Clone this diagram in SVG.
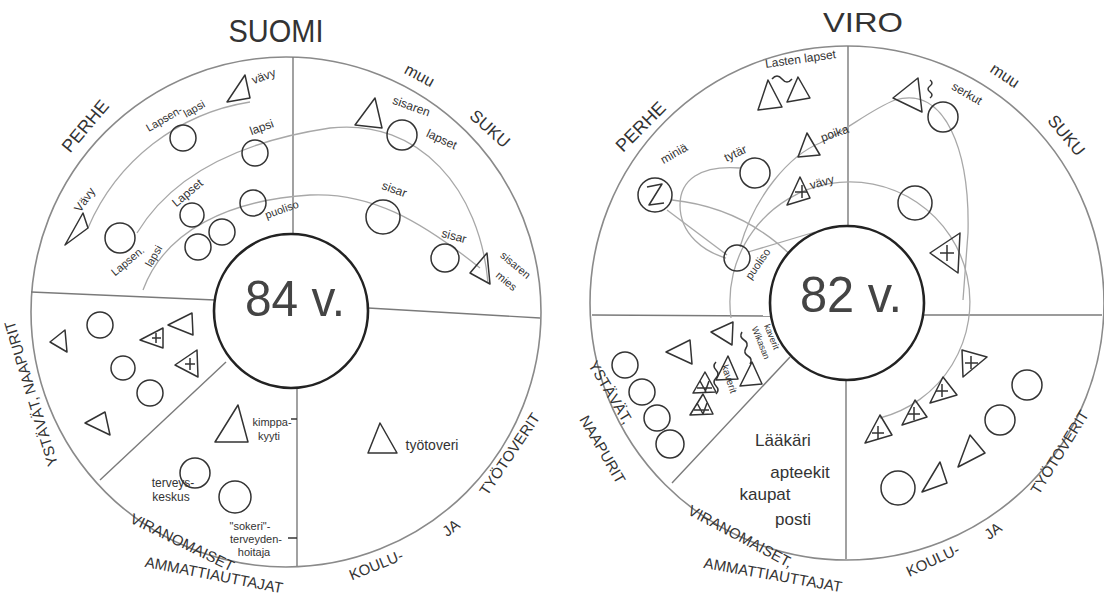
<svg xmlns="http://www.w3.org/2000/svg" width="1104" height="606" viewBox="0 0 1104 606">
<style>
.ring{fill:none;stroke:#8a8a8a;stroke-width:1.6}
.core{fill:#fff;stroke:#222;stroke-width:2.6}
.sec{stroke:#7a7a7a;stroke-width:1.4;fill:none}
.link{fill:none;stroke:#a8a8a8;stroke-width:1.3}
.n{fill:none;stroke:#333;stroke-width:1.5;stroke-linejoin:round}
.t{font-family:'Liberation Sans',sans-serif;fill:#333;text-anchor:middle}
.s{font-size:11px}
.m{font-size:12px}
.c{font-size:15px}
.big{font-size:50px;fill:#444}
</style>
<rect width="1104" height="606" fill="#fff"/>

<!-- LEFT: SUOMI -->
<g id="suomi-frame">
<circle class="ring" cx="286" cy="312" r="255"/>
<line class="sec" x1="293" y1="57" x2="293" y2="234"/>
<line class="sec" x1="368" y1="308" x2="540" y2="318"/>
<line class="sec" x1="31" y1="292" x2="215" y2="300"/>
<line class="sec" x1="297" y1="388" x2="297" y2="566"/>
<line class="sec" x1="100" y1="480" x2="226" y2="362"/>
<text class="t" x="276" y="42" font-size="32" textLength="95" lengthAdjust="spacingAndGlyphs">SUOMI</text>
<text class="t" transform="translate(90,130) rotate(-50)" font-size="18">PERHE</text>
<text class="t" transform="translate(417,80) rotate(28)" font-size="16">muu</text>
<text class="t" transform="translate(486,133) rotate(42)" font-size="17">SUKU</text>
<text class="t c" transform="translate(36,392) rotate(-107)">YSTÄVÄT, NAAPURIT</text>
<text class="t c" transform="translate(180,547) rotate(26)">VIRANOMAISET</text>
<text class="t c" transform="translate(213,580) rotate(11)">AMMATTIAUTTAJAT</text>
<text class="t c" transform="translate(378,570) rotate(-22)">KOULU-</text>
<text class="t c" transform="translate(454,532) rotate(-36)">JA</text>
<text class="t c" transform="translate(514,457) rotate(-56)">TYÖTOVERIT</text>
</g>
<g id="suomi-connectors">
<path class="link" d="M 88 228 A 212 212 0 0 1 250 102"/>
<path class="link" d="M 137 233 C 175 170, 250 140, 330 128 C 420 118, 480 190, 488 283"/>
<path class="link" d="M 143 290 C 165 230, 230 200, 310 195 C 370 192, 420 220, 480 268"/>
</g>
<g id="suomi-ego"><circle class="core" cx="291" cy="311" r="77"/><text class="t big" x="295" y="316" textLength="100" lengthAdjust="spacingAndGlyphs">84 v.</text></g>
<g id="s-vavy1"><polygon class="n" points="245,75 227,102 250,98"/><text class="t m" transform="translate(265,80) rotate(-20)">vävy</text></g>
<g id="s-lapsenlapsi1"><circle class="n" cx="183" cy="138" r="13"/><text class="t s" transform="translate(166,122) rotate(-30)">Lapsen-</text><text class="t s" transform="translate(196,112) rotate(-30)">lapsi</text></g>
<g id="s-lapsi"><circle class="n" cx="255" cy="153" r="13"/><text class="t m" transform="translate(263,131) rotate(-20)">lapsi</text></g>
<g id="s-vavy2"><polygon class="n" points="83,213 65,245 88,228"/><text class="t m" transform="translate(88,202) rotate(-55)">Vävy</text></g>
<g id="s-lapsenlapsi2"><circle class="n" cx="120" cy="238" r="15"/><text class="t s" transform="translate(130,264) rotate(-40)">Lapsen.</text><text class="t s" transform="translate(157,258) rotate(-60)">lapsi</text></g>
<g id="s-lapset"><circle class="n" cx="192" cy="215" r="12"/><circle class="n" cx="222" cy="232" r="13"/><circle class="n" cx="198" cy="247" r="13"/><text class="t m" transform="translate(190,196) rotate(-40)">Lapset</text></g>
<g id="s-puoliso"><circle class="n" cx="253" cy="203" r="13"/><text class="t s" transform="translate(283,213) rotate(-20)">puoliso</text></g>
<g id="s-sisarenlapset"><polygon class="n" points="375,98 355,125 382,128"/><circle class="n" cx="402" cy="135" r="15"/><text class="t m" transform="translate(410,110) rotate(20)">sisaren</text><text class="t m" transform="translate(440,143) rotate(25)">lapset</text></g>
<g id="s-sisar1"><circle class="n" cx="383" cy="217" r="17"/><text class="t m" transform="translate(393,193) rotate(20)">sisar</text></g>
<g id="s-sisar2"><circle class="n" cx="445" cy="258" r="14"/><text class="t m" transform="translate(453,240) rotate(15)">sisar</text></g>
<g id="s-sisarenmies"><polygon class="n" points="470,273 487,253 490,284"/><text class="t s" transform="translate(513,268) rotate(40)">sisaren</text><text class="t s" transform="translate(504,284) rotate(40)">mies</text></g>
<g id="s-ystavat">
<polygon class="n" points="50,342 65,330 67,352"/>
<circle class="n" cx="100" cy="325" r="13"/>
<polygon class="n" points="140,340 163,328 163,348"/><path class="n" d="M152 338 h9 M156 333 v10"/>
<polygon class="n" points="168,325 192,313 193,335"/>
<polygon class="n" points="175,365 197,350 198,377"/><path class="n" d="M185 364 h10 M190 358 v12"/>
<circle class="n" cx="123" cy="368" r="12"/>
<circle class="n" cx="150" cy="393" r="13"/>
<polygon class="n" points="85,423 105,412 110,435"/>
</g>
<g id="s-kimppakyyti"><polygon class="n" points="238,405 215,442 248,442"/><text class="t s" x="272" y="426">kimppa-</text><text class="t s" x="269" y="440">kyyti</text><line class="n" x1="291" y1="419" x2="297" y2="419"/></g>
<g id="s-terveyskeskus"><circle class="n" cx="195" cy="473" r="15"/><text class="t m" x="173" y="487">terveys-</text><text class="t m" x="171" y="501">keskus</text></g>
<g id="s-terveydenhoitaja"><circle class="n" cx="235" cy="497" r="16"/><text class="t s" x="250" y="530">"sokeri"-</text><text class="t s" x="256" y="543">terveyden-</text><text class="t s" x="254" y="556">hoitaja</text><line class="n" x1="288" y1="538" x2="297" y2="538"/></g>
<g id="s-tyotoveri"><polygon class="n" points="380,423 368,453 397,453"/><text class="t" x="432" y="450" font-size="14">työtoveri</text></g>

<!-- RIGHT: VIRO -->
<g id="viro-frame">
<circle class="ring" cx="847" cy="303" r="257"/>
<line class="sec" x1="848" y1="46" x2="848" y2="226"/>
<line class="sec" x1="924" y1="315" x2="1102" y2="315"/>
<line class="sec" x1="592" y1="315" x2="770" y2="316"/>
<line class="sec" x1="846" y1="380" x2="846" y2="559"/>
<line class="sec" x1="672" y1="483" x2="790" y2="357"/>
<text class="t" x="863" y="32" font-size="28" textLength="80" lengthAdjust="spacingAndGlyphs">VIRO</text>
<text class="t" transform="translate(645,131) rotate(-45)" font-size="18">PERHE</text>
<text class="t" transform="translate(1002,80) rotate(33)" font-size="16">muu</text>
<text class="t" transform="translate(1062,139) rotate(50)" font-size="17">SUKU</text>
<text class="t c" transform="translate(606,395) rotate(59)">YSTÄVÄT,</text>
<text class="t c" transform="translate(598,452) rotate(60)">NAAPURIT</text>
<text class="t c" transform="translate(738,541) rotate(28)">VIRANOMAISET,</text>
<text class="t c" transform="translate(772,580) rotate(10)">AMMATTIAUTTAJAT</text>
<text class="t c" transform="translate(935,565) rotate(-25)">KOULU-</text>
<text class="t c" transform="translate(996,535) rotate(-36)">JA</text>
<text class="t c" transform="translate(1064,455) rotate(-58)">TYÖTOVERIT</text>
</g>
<g id="viro-connectors">
<path class="link" d="M 731 318 A 120 120 0 1 1 880 418"/>
<path class="link" d="M 740 247 C 755 195, 790 155, 820 143 C 850 128, 870 110, 895 100 C 945 85, 970 150, 968 233 L 963 300"/>
<path class="link" d="M 672 200 C 720 205, 770 225, 813 280"/>
<path class="link" d="M 667 210 L 727 255"/>
<path class="link" d="M 740 168 C 700 165, 680 180, 680 205 C 680 235, 705 252, 726 258"/>
<path class="link" d="M 748 252 L 815 232"/>
</g>
<g id="viro-ego"><circle class="core" cx="847" cy="303" r="77"/><text class="t big" x="851" y="312" textLength="102" lengthAdjust="spacingAndGlyphs">82 v.</text></g>
<g id="v-lastenlapset"><polygon class="n" points="768,80 758,110 782,107"/><polygon class="n" points="798,77 787,102 810,98"/><path class="n" d="M 772 79 q 5 -6 10 0 t 10 0" stroke-width="1"/><text class="t m" transform="translate(801,63) rotate(-8)">Lasten lapset</text></g>
<g id="v-minia"><circle class="n" cx="655" cy="195" r="17"/><polyline class="n" points="647,187 662,184 649,205 664,203"/><text class="t m" transform="translate(676,157) rotate(-30)">miniä</text></g>
<g id="v-tytar"><circle class="n" cx="755" cy="173" r="15"/><text class="t m" transform="translate(737,157) rotate(-25)">tytär</text></g>
<g id="v-poika"><polygon class="n" points="807,133 798,157 820,155"/><text class="t m" transform="translate(836,137) rotate(-20)">poika</text></g>
<g id="v-vavy"><polygon class="n" points="800,177 787,205 810,198"/><path class="n" d="M795 192 h12 M802 185 v13" stroke-width="1.2"/><text class="t m" transform="translate(823,186) rotate(-15)">vävy</text></g>
<g id="v-puoliso"><circle class="n" cx="737" cy="258" r="13"/><text class="t s" transform="translate(761,266) rotate(-55)">puoliso</text></g>
<g id="v-serkut"><polygon class="n" points="893,98 918,78 922,112"/><circle class="n" cx="943" cy="117" r="15"/><path class="n" d="M 930 80 q 4 3 0 6 q -4 3 0 6 q 4 3 0 6" stroke-width="1"/><text class="t m" transform="translate(965,97) rotate(30)">serkut</text></g>
<g id="v-suku2"><circle class="n" cx="915" cy="203" r="17"/></g>
<g id="v-suku3"><polygon class="n" points="930,253 960,233 958,273"/><path class="n" d="M940 253 h14 M947 245 v16" stroke-width="1.2"/></g>
<g id="v-kaverit">
<circle class="n" cx="625" cy="365" r="13"/><circle class="n" cx="642" cy="392" r="13"/><circle class="n" cx="657" cy="418" r="13"/><circle class="n" cx="670" cy="444" r="14"/>
<polygon class="n" points="666,352 690,340 692,364"/>
<polygon class="n" points="711,332 733,322 732,345"/>
<polygon class="n" points="728,356 716,380 738,379"/>
<polygon class="n" points="752,362 740,386 762,384"/>
<polygon class="n" points="705,372 693,393 716,392"/><path class="n" d="M697 388 h15 M700 381 l6 11 M709 381 l-4 11" stroke-width="1"/>
<polygon class="n" points="703,394 690,415 713,414"/><path class="n" d="M694 410 h15 M697 403 l6 11 M707 403 l-4 11" stroke-width="1"/>
<path class="n" d="M 716 362 q -4 4 0 8 q 4 4 0 8 q -4 4 0 8 q 4 4 0 8" stroke-width="1"/>
<path class="n" d="M 742 332 q -3 5 2 8 q 5 3 2 8 q -3 5 2 8 q 5 3 2 8" stroke-width="1"/>
<text class="t" font-size="10" transform="translate(726,380) rotate(72)">kaverit</text>
<text class="t" font-size="9" transform="translate(758,344) rotate(68)">Wikasan</text>
<text class="t" font-size="9" transform="translate(769,338) rotate(68)">kaverit</text>
</g>
<g id="v-viranomaiset"><text class="t" x="783" y="446" font-size="17">Lääkäri</text><text class="t" x="800" y="478" font-size="17">apteekit</text><text class="t" x="765" y="500" font-size="17">kaupat</text><text class="t" x="793" y="525" font-size="17">posti</text></g>
<g id="v-tyo">
<polygon class="n" points="880,415 865,443 892,435"/><path class="n" d="M872 433 h12 M878 426 v13" stroke-width="1.1"/>
<polygon class="n" points="915,400 902,425 927,417"/><path class="n" d="M908 414 h12 M914 407 v13" stroke-width="1.1"/>
<polygon class="n" points="943,377 930,403 957,395"/><path class="n" d="M936 391 h12 M942 384 v13" stroke-width="1.1"/>
<polygon class="n" points="962,350 987,357 963,377"/><path class="n" d="M965 363 h13 M971 356 v13" stroke-width="1.1"/>
<circle class="n" cx="1027" cy="385" r="15"/><circle class="n" cx="1000" cy="420" r="15"/>
<polygon class="n" points="970,435 958,467 985,453"/>
<polygon class="n" points="940,462 922,492 947,483"/>
<circle class="n" cx="898" cy="488" r="17"/>
</g>
</svg>
